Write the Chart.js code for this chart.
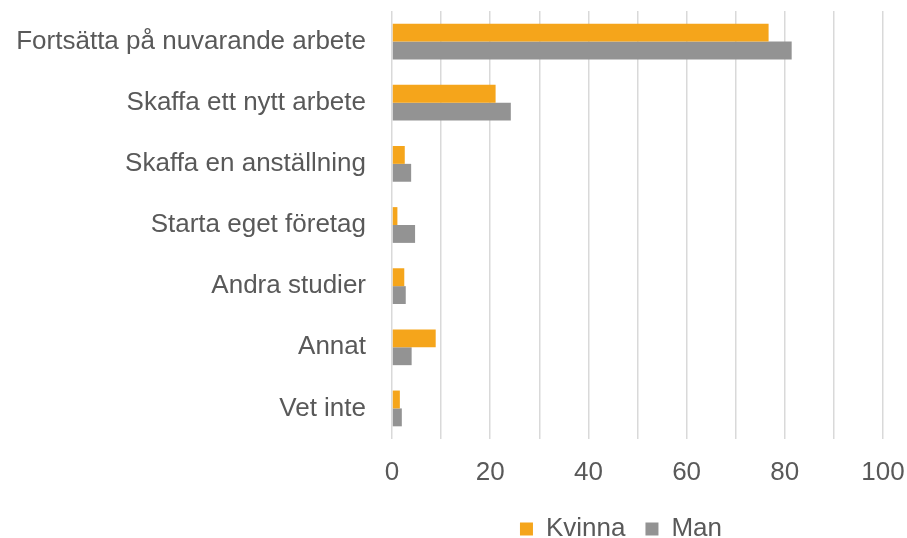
<!DOCTYPE html>
<html><head><meta charset="utf-8">
<script src="https://cdn.jsdelivr.net/npm/chart.js@4/dist/chart.umd.min.js"></script>
<style>html,body{margin:0;padding:0;background:#fff}#wrap{width:907px;height:538px;position:relative}</style>
</head><body><div id="wrap"><canvas id="c"></canvas></div>
<script>
const categories = ["Fortsätta på nuvarande arbete","Skaffa ett nytt arbete","Skaffa en anställning","Starta eget företag","Andra studier","Annat","Vet inte"];
const kvinna = [76.7, 21.1, 2.6, 1.1, 2.5, 8.9, 1.6];
const man = [81.4, 24.2, 3.9, 4.7, 2.8, 4.0, 2.0];
const xTicks = [0, 20, 40, 60, 80, 100];
const seriesNames = ["Kvinna", "Man"];

const FONT = "'Liberation Sans', Arial, sans-serif";
const TXT = '#595959';

// centre the legend under the plot area (as in the reference)
const legendUnderPlot = {
  id: 'legendUnderPlot',
  afterLayout(chart) {
    const lg = chart.legend;
    if (!lg) return;
    const ca = chart.chartArea;
    const w = ca.right - ca.left;
    const shift = 2 * ca.left - ca.right + w - ca.left; // keep as left edge
    lg.left = ca.left - 33;
    lg.right = ca.right;
    lg.width = lg.right - lg.left;
    if (lg.adjustHitBoxes) lg.adjustHitBoxes();
  }
};

new Chart(document.getElementById('c'), {
  type: 'bar',
  data: {
    labels: categories,
    datasets: [
      {label: seriesNames[0], data: kvinna, backgroundColor: '#F5A51B', categoryPercentage: 0.585, barPercentage: 1.0},
      {label: seriesNames[1], data: man, backgroundColor: '#939393', categoryPercentage: 0.585, barPercentage: 1.0}
    ]
  },
  plugins: [legendUnderPlot],
  options: {
    indexAxis: 'y',
    responsive: true,
    maintainAspectRatio: false,
    animation: false,
    devicePixelRatio: 1,
    layout: {padding: {top: 11, right: 24, left: 0, bottom: -14}},
    scales: {
      x: {
        min: 0, max: 100,
        afterFit: s => { s.height = 57; s.paddingLeft = 0; s.paddingRight = 0; },
        ticks: {
          stepSize: 10, autoSkip: false, maxRotation: 0, minRotation: 0, color: TXT, padding: 18,
          font: {family: FONT, size: 26},
          callback: v => xTicks.includes(v) ? String(v) : ''
        },
        grid: {color: '#D9D9D9', lineWidth: 1.5, drawTicks: false},
        border: {display: false}
      },
      y: {
        afterFit: s => { s.width = 392; s.paddingTop = 0; s.paddingBottom = 0; },
        ticks: {color: TXT, padding: 18, font: {family: FONT, size: 26}},
        grid: {display: false},
        border: {display: false}
      }
    },
    plugins: {
      legend: {
        position: 'bottom',
        labels: {boxWidth: 13, boxHeight: 13, color: TXT, padding: 20, font: {family: FONT, size: 26}}
      },
      tooltip: {enabled: false}
    }
  }
});
</script>
</body></html>
